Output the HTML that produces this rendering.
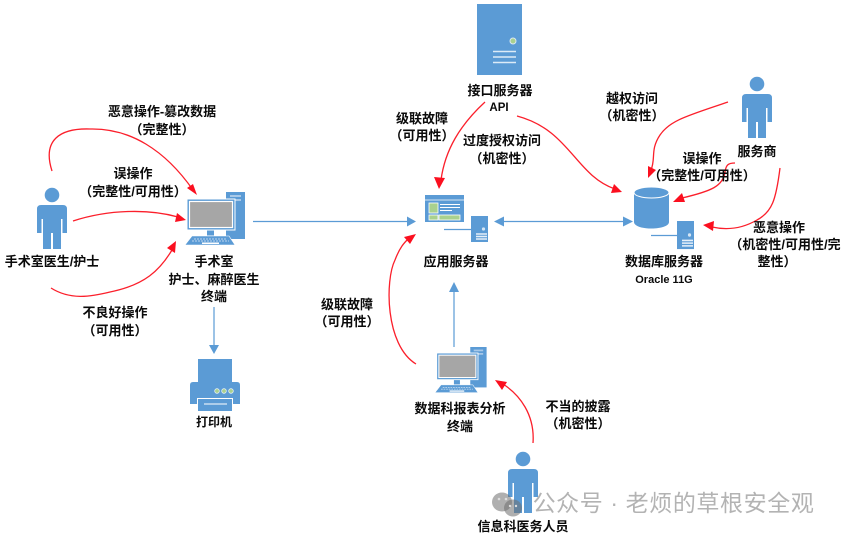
<!DOCTYPE html>
<html><head><meta charset="utf-8">
<style>
html,body{margin:0;padding:0;background:#fff;}
svg{display:block;}
text{font-family:"Liberation Sans","Noto Sans CJK SC",sans-serif;font-size:13px;font-weight:700;fill:#0a0a0a;text-anchor:middle;}
.r{fill:none;stroke:#fb1f2b;stroke-width:1.3;}
.b{fill:none;stroke:#5b9bd5;stroke-width:1.2;}
.ah{fill:#fb0f1f;}
.bh{fill:#5b9bd5;}
</style></head>
<body>
<svg width="841" height="539" viewBox="0 0 841 539" xmlns="http://www.w3.org/2000/svg">
<defs>
<g id="person" fill="#5b9bd5">
<circle cx="15" cy="-10" r="7.300"/>
<path d="M4,0H26Q30,0 30,4V28H25.500V14H24V44H16V28H14V44H6V14H4.500V28H0V4Q0,0 4,0Z"/>
</g>
<g id="pc">
<rect x="41" y="0" width="19" height="47" fill="#5b9bd5"/>
<rect x="45" y="3" width="11" height="2" fill="#a9c9e8"/>
<rect x="45" y="7" width="11" height="2" fill="#a9c9e8"/>
<rect x="2" y="7" width="48" height="31" fill="#5b9bd5" stroke="#fff" stroke-width="1"/>
<rect x="4.500" y="9.500" width="43" height="26" fill="#a6a6a6" stroke="#fff" stroke-width="1.200"/>
<rect x="22" y="38.500" width="7" height="5" fill="#5b9bd5"/>
<path d="M7,44H44L50,53H0Z" fill="#5b9bd5" stroke="#fff" stroke-width=".6"/>
<path d="M9,47H42M7,49H44" stroke="#bcd6ee" stroke-width="1" stroke-dasharray="2 1"/>
<rect x="17" y="50.500" width="17" height="1.500" fill="#fff"/>
</g>
<g id="mini">
<rect width="17" height="26" fill="#5b9bd5"/>
<circle cx="12.500" cy="13" r="1.600" fill="#d5e6f4"/>
<path d="M5,18H16M5,20.500H16M5,23H16" stroke="#e6f0f9" stroke-width="1.400"/>
</g>
</defs>

<!-- blue connectors -->
<path class="b" d="M253,221.500H408"/><path class="bh" d="M407,216.500L416,221.500L407,226.500Z"/>
<path class="b" d="M503,221.500H624"/><path class="bh" d="M494,221.500L504,216.500V226.500Z"/><path class="bh" d="M623,216.500L633,221.500L623,226.500Z"/>
<path class="b" d="M214,307V346"/><path class="bh" d="M209,345H219L214,354Z"/>
<path class="b" d="M454,347V290"/><path class="bh" d="M449,292H459L454,282Z"/>

<!-- icons -->
<use href="#person" x="37" y="205"/>
<use href="#person" x="742" y="94"/>
<use href="#person" x="508" y="469"/>
<use href="#pc" x="185" y="192"/>
<use href="#pc" transform="translate(435,347) scale(.86)"/>

<rect x="477" y="4" width="45" height="71" fill="#5b9bd5"/>
<circle cx="513" cy="41" r="3" fill="#a9d18e" stroke="#dbe8f3" stroke-width="1"/>
<path d="M493,51.500H516M493,57H516M493,62.500H516" stroke="#dcebf7" stroke-width="1.600"/>

<rect x="425" y="195" width="39" height="27" fill="#5b9bd5"/>
<rect x="425" y="199.500" width="39" height="1" fill="#d5e6f4"/>
<rect x="429" y="203" width="9" height="10" fill="#a9d18e" stroke="#fff" stroke-width=".8"/>
<path d="M440,204.500H460M440,207.500H460M440,210.500H452" stroke="#fff" stroke-width="1"/>
<rect x="429" y="215" width="9" height="5" fill="#a9d18e" stroke="#fff" stroke-width=".8"/>
<rect x="439" y="215" width="21" height="5" fill="#a9d18e" stroke="#fff" stroke-width=".8"/>
<use href="#mini" x="471" y="216"/>
<path class="b" d="M444,229.500H471"/>

<path d="M634,193V222C634,226 642,228.500 651.500,228.500C661,228.500 669,226 669,222V193Z" fill="#5b9bd5"/>
<ellipse cx="651.500" cy="192.500" rx="17.500" ry="5.500" fill="#5b9bd5" stroke="#fff" stroke-width="1"/>
<use href="#mini" transform="translate(677,221) scale(1,1.08)"/>
<path class="b" d="M651,235.500H677"/>

<rect x="198" y="359" width="34" height="24" fill="#5b9bd5"/>
<path d="M193,382H237Q240,382 240,385V404H190V385Q190,382 193,382Z" fill="#5b9bd5"/>
<circle cx="217" cy="391" r="2.300" fill="#a9d18e" stroke="#e6f0f9" stroke-width=".8"/>
<circle cx="224" cy="391" r="2.300" fill="#a9d18e" stroke="#e6f0f9" stroke-width=".8"/>
<circle cx="231" cy="391" r="2.300" fill="#a9d18e" stroke="#e6f0f9" stroke-width=".8"/>
<rect x="197.500" y="398.500" width="35" height="13" fill="#5b9bd5" stroke="#fff" stroke-width="1"/>
<path d="M204,404H227" stroke="#fff" stroke-width="1"/>

<!-- red curves -->
<path class="r" d="M52,171C42,140 60,128 90,129C130,128 165,150 193,190"/>
<path class="ah" d="M197,195L187,188L193,184Z"/>
<path class="r" d="M73,221C110,209 150,209 178,217"/>
<path class="ah" d="M186,220L175,222L177,213Z"/>
<path class="r" d="M51,288C70,300 90,297 110,292C145,285 160,270 172,250"/>
<path class="ah" d="M176,241L175,253L167,248Z"/>
<path class="r" d="M485,102C460,125 445,150 441,180"/>
<path class="ah" d="M439,189L434,177L445,178Z"/>
<path class="r" d="M517,116C570,130 575,175 615,189"/>
<path class="ah" d="M622,192L611,193L614,184Z"/>
<path class="r" d="M728,102C690,115 670,120 660,135C650,150 656,158 651,170"/>
<path class="ah" d="M648,178L648,166L656,170Z"/>
<path class="r" d="M735,163C728,163 726,165 725,172C723,186 712,191 682,198"/>
<path class="ah" d="M673,202L682,193L685,202Z"/>
<path class="r" d="M780,168C776,200 772,212 757,220C745,227 730,231 712,227"/>
<path class="ah" d="M703,225L714,221L713,231Z"/>
<path class="r" d="M416,364C385,345 385,280 395,260C400,247 404,243 409,238"/>
<path class="ah" d="M416,234L410,244L404,237Z"/>
<path class="r" d="M533,443C535,415 520,395 503,384"/>
<path class="ah" d="M495,380L507,382L502,390Z"/>

<!-- labels -->
<text x="162" y="116">恶意操作-篡改数据</text>
<text x="162" y="134">（完整性）</text>
<text x="133" y="178">误操作</text>
<text x="133" y="196">（完整性/可用性）</text>
<text x="52" y="266">手术室医生/护士</text>
<text x="214" y="266">手术室</text>
<text x="214" y="284">护士、麻醉医生</text>
<text x="214" y="301">终端</text>
<text x="115" y="317">不良好操作</text>
<text x="115" y="335">（可用性）</text>
<text x="214" y="426" style="font-size:12px">打印机</text>
<text x="500" y="95">接口服务器</text>
<text x="499" y="111" style="font-size:11.500px">API</text>
<text x="422" y="123">级联故障</text>
<text x="422" y="140">（可用性）</text>
<text x="502" y="145">过度授权访问</text>
<text x="502" y="163">（机密性）</text>
<text x="632" y="103">越权访问</text>
<text x="632" y="120">（机密性）</text>
<text x="757" y="156">服务商</text>
<text x="702" y="163">误操作</text>
<text x="702" y="180">（完整性/可用性）</text>
<text x="779" y="232">恶意操作</text>
<text x="785" y="249">（机密性/可用性/完</text>
<text x="777" y="266">整性）</text>
<text x="456" y="266">应用服务器</text>
<text x="664" y="266">数据库服务器</text>
<text x="664" y="283" style="font-size:11px">Oracle 11G</text>
<text x="347" y="309">级联故障</text>
<text x="347" y="326">（可用性）</text>
<text x="460" y="413">数据科报表分析</text>
<text x="460" y="431">终端</text>
<text x="578" y="411">不当的披露</text>
<text x="578" y="428">（机密性）</text>
<text x="523" y="531">信息科医务人员</text>

<!-- watermark -->
<g fill="#6e6e6e" fill-opacity=".55">
<ellipse cx="502" cy="502" rx="10" ry="9.500"/>
<ellipse cx="513" cy="508" rx="9" ry="8.500"/>
</g>
<circle cx="499" cy="499" r="1.300" fill="#ddd"/>
<circle cx="506" cy="499" r="1.300" fill="#ddd"/>
<circle cx="510" cy="506" r="1.200" fill="#ddd"/>
<circle cx="516" cy="506" r="1.200" fill="#ddd"/>
<text x="673.500" y="511" style="font-size:23px;font-weight:400;fill:#9a9a9a;fill-opacity:.75;letter-spacing:.6px">公众号 · 老烦的草根安全观</text>
</svg>
</body></html>
